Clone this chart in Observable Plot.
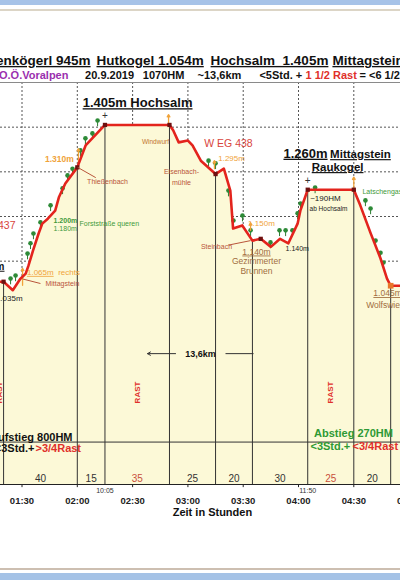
<!DOCTYPE html>
<html>
<head>
<meta charset="utf-8">
<script src="https://cdn.jsdelivr.net/npm/d3@7"></script>
<script src="https://cdn.jsdelivr.net/npm/@observablehq/plot@0.6"></script>
<style>
html, body { margin:0; padding:0; background:#fff; overflow:hidden; width:400px; height:580px; }
#wrap { position:relative; width:400px; height:580px; overflow:hidden; background:#fff; }
#wrap svg { position:absolute; left:0; top:0; }
.chrome { position:absolute; left:0; width:400px; }
</style>
</head>
<body>
<div id="wrap">
  <div class="chrome" style="top:0;height:5px;background:#a7c3e8"></div>
  <div class="chrome" style="top:9px;height:2px;background:#dcd5c6"></div>
  <div class="chrome" style="top:568px;height:2px;background:#cdbfb1"></div>
  <div class="chrome" style="top:573px;height:7px;background:#a4c2e6"></div>
</div>
<script>
// ---------- data (minutes from start, metres) ----------
const profileMinutes   = [50, 80, 85, 89, 92, 93.5, 96, 99, 101, 104, 108, 110, 113.5, 120, 124.5, 135, 170, 172, 175, 180, 182.5, 187, 195, 199.5, 203, 204.5, 209.5, 215, 219.5, 225, 230, 234.5, 239.5, 241, 245, 270, 273.5, 279, 284.5, 288, 290, 300];
const profileElevation = [1054, 1054, 1035, 1060, 1072, 1090, 1124, 1162, 1184, 1195, 1213, 1243, 1274, 1310, 1359, 1405, 1405, 1393, 1366, 1370, 1359, 1325, 1295, 1307, 1258, 1173, 1180, 1146, 1150, 1132, 1150, 1140, 1184, 1213, 1260, 1260, 1225, 1164, 1106, 1061, 1045, 1045];

const stopMinutes    = [80, 120, 135, 170, 195, 215, 245, 270, 290];
const segmentMinutes = [40, 15, 35, 25, 20, 30, 25, 20];
const segmentIsRest  = [false, false, true, false, false, false, true, false];
const clockStops     = [135, 245];
const clockLabels    = ["10:05", "11:50"];

const tickMinutes    = [90, 120, 150, 180, 210, 240, 270, 300];
const gridElevations = [1000, 1100, 1200, 1300, 1400];

const markerMinutes  = [80, 120, 135, 170, 195, 219.5, 245, 270];
const wolfswieseMinute = [290];

const treeMinutes   = [83.8, 86.5, 93, 94.6, 96.2, 100, 105.5, 112, 114.7, 117.4, 121.7, 124.4, 128.2, 131, 191.2, 195, 202, 204.7, 209.6, 214, 224.8, 229.7, 233, 236.7, 239.5, 241.1, 249, 276.3, 279.1, 281.8, 284.5, 286.1];
const treeElevation = [1061, 1068, 1117, 1140, 1162, 1187, 1225, 1263, 1292, 1307, 1348, 1375, 1386, 1415, 1325, 1319, 1258, 1191, 1202, 1169, 1142, 1169, 1169, 1169, 1207, 1229, 1265, 1236, 1218, 1146, 1119, 1097];

const orangeArrowMinutes = [90.3, 120.6, 194.4, 214, 169.5, 270];
const orangeArrowFrom    = [1046, 1314, 1307, 1169, 1408, 1262];
const orangeArrowTo      = [1084, 1352, 1325, 1186, 1428, 1288];

// ---------- text annotations (minutes, metres) ----------
const titleTexts = [
  {t: 127.2, e: 1549, s: "Kienkögerl 945m", a: "end"},
  {t: 130.4, e: 1549, s: "Hutkogel 1.054m", a: "start"},
  {t: 192.3, e: 1549, s: "Hochsalm\u00a0 1.405m", a: "start"},
  {t: 258.4, e: 1549, s: "Mittagstein 1.260m", a: "start"}
];
const subtitleTexts = [
  {t: 137.5, e: 1516, s: "20.9.2019"},
  {t: 166.8, e: 1516, s: "1070HM"},
  {t: 197.1, e: 1516, s: "~13,6km"}
];

// ---------- build ----------
const FONT = "'Liberation Sans', Arial, Helvetica, sans-serif";
const RED = "#e3241d", BEIGE = "#fcf9d7", ORANGE = "#f0a33a", BROWN = "#b9553a", TAN = "#a06d3e", GREEN = "#3f9a3b", DGREEN = "#2d8a37";

const profile = profileMinutes.map((t, i) => ({t, e: profileElevation[i]}));
const elevAt = t => {
  const i = d3.bisectLeft(profileMinutes, t);
  if (profileMinutes[i] === t) return profileElevation[i];
  const t0 = profileMinutes[i - 1], t1 = profileMinutes[i];
  return profileElevation[i - 1] + (profileElevation[i] - profileElevation[i - 1]) * (t - t0) / (t1 - t0);
};
const stops = stopMinutes.map(t => ({t, e: elevAt(t)}));
const segments = segmentMinutes.map((m, i) => ({t: (stopMinutes[i] + stopMinutes[i + 1]) / 2, s: String(m), rest: segmentIsRest[i]}));
const rests = segments.filter(d => d.rest);
const clocks = clockStops.map((t, i) => ({t, s: clockLabels[i]}));
const markers = markerMinutes.map(t => ({t, e: elevAt(t)}));
const wolf = wolfswieseMinute.map(t => ({t, e: elevAt(t)}));
const summits = [135, 245].map(t => ({t, e: elevAt(t)}));
const trees = treeMinutes.map((t, i) => ({t, e: treeElevation[i]}));
const oarrows = orangeArrowMinutes.map((t, i) => ({t, e1: orangeArrowFrom[i], e2: orangeArrowTo[i]}));
const fmt = t => `${String(Math.floor(t / 60)).padStart(2, "0")}:${String(t % 60).padStart(2, "0")}`;

const T = (data, o) => Plot.text(data, {x: "t", y: "e", text: "s", fontFamily: FONT, ...o});
const U = "underline";

const svg = Plot.plot({
  width: 400, height: 580,
  marginTop: 82, marginBottom: 96, marginLeft: 0, marginRight: 0,
  x: {domain: [78.33, 295.33], axis: null},
  y: {domain: [600, 1500], axis: null},
  style: {background: "transparent", fontFamily: FONT},
  marks: [
    Plot.ruleY(gridElevations, {stroke: "#555", strokeDasharray: "2,2", strokeWidth: 1}),
    Plot.ruleX(tickMinutes, {y1: 600, y2: 1500, stroke: "#555", strokeDasharray: "2,2", strokeWidth: 1, clip: true}),
    Plot.areaY(profile, {x: "t", y1: 600, y2: "e", fill: BEIGE, clip: true}),
    Plot.ruleY([1500], {stroke: "#8a8a8a"}),
    Plot.ruleX(stops, {x: "t", y1: 600, y2: "e", stroke: "#333", strokeWidth: 1}),
    Plot.ruleY([695], {stroke: "#333", strokeWidth: 1}),
    Plot.arrow([{a: 173.3, b: 158.1, e: 893}], {x1: "a", x2: "b", y1: "e", y2: "e", stroke: "#333", strokeWidth: 1, headLength: 5}),
    Plot.link([{a: 200.4, b: 215.6, e: 893}], {x1: "a", x2: "b", y1: "e", y2: "e", stroke: "#333", strokeWidth: 1}),
    // trees
    Plot.ruleX(trees, {x: "t", y1: "e", y2: d => d.e - 14, stroke: "#2e7d32", strokeWidth: 1}),
    Plot.dot(trees, {x: "t", y: "e", r: 2.3, fill: DGREEN}),
    Plot.arrow(oarrows, {x1: "t", x2: "t", y1: "e1", y2: "e2", stroke: ORANGE, strokeWidth: 1.3, headLength: 3}),
    // profile
    Plot.line(profile, {x: "t", y: "e", stroke: RED, strokeWidth: 2.6, clip: true}),
    Plot.dot(markers, {x: "t", y: "e", symbol: "square", r: 2.4, fill: "#6e1010"}),
    Plot.dot(wolf, {x: "t", y: "e", symbol: "square", r: 3.2, fill: "#e8762a"}),
    Plot.text(summits, {x: "t", y: "e", text: () => "+", dy: -9, fontSize: 10, fill: "#333", fontFamily: FONT}),
    // axis
    Plot.ruleY([600], {stroke: "#222", strokeWidth: 1}),
    Plot.ruleX(tickMinutes, {y1: 600, y2: 593, stroke: "#222"}),
    Plot.text(tickMinutes, {x: d => d, y: 564, text: fmt, fontWeight: "bold", fontSize: 9.5, fill: "#222", fontFamily: FONT}),
    Plot.text(["Zeit in Stunden"], {x: 193.3, y: 537, text: d => d, fontWeight: "bold", fontSize: 11, fill: "#111", fontFamily: FONT}),
    Plot.text(clocks, {x: "t", y: 587, text: "s", fontSize: 7, fill: "#333", fontFamily: FONT}),
    Plot.text(segments, {x: "t", y: 613, text: "s", fontSize: 10, fill: d => d.rest ? "#c8503c" : "#333", fontFamily: FONT}),
    Plot.text(rests.concat([{t: 77.6}]), {x: "t", y: 806, text: () => "RAST", rotate: -90, fontSize: 8, fontWeight: "bold", fill: "#e0302a", fontFamily: FONT}),
    // titles
    Plot.text(titleTexts.filter(d => d.a === "end"), {x: "t", y: "e", text: "s", textAnchor: "end", fontSize: 13.5, fontWeight: "bold", fill: "#111", fontFamily: FONT, ariaDescription: U}),
    Plot.text(titleTexts.filter(d => d.a === "start"), {x: "t", y: "e", text: "s", textAnchor: "start", fontSize: 13.5, fontWeight: "bold", fill: "#111", fontFamily: FONT, ariaDescription: U}),
    T([{t: 115.2, e: 1516, s: "O.Ö.Voralpen"}], {textAnchor: "end", fontSize: 11, fontWeight: "bold", fill: "#9a2fae"}),
    T(subtitleTexts, {fontSize: 11, fontWeight: "bold", fill: "#111"}),
    T([{t: 218.8, e: 1516, s: "<5Std. +"}, {t: 273.1, e: 1516, s: "= <6 1/2 Std."}], {textAnchor: "start", fontSize: 11, fontWeight: "bold", fill: "#111"}),
    T([{t: 243.8, e: 1516, s: "1 1/2 Rast"}], {textAnchor: "start", fontSize: 11, fontWeight: "bold", fill: "#e0302a"}),
    // big labels
    T([{t: 152.7, e: 1454, s: "1.405m Hochsalm"}, {t: 243.8, e: 1341, s: "1.260m"}], {fontSize: 13, fontWeight: "bold", fill: "#111", ariaDescription: U}),
    T([{t: 273.6, e: 1339, s: "Mittagstein"}, {t: 261.2, e: 1310, s: "Raukogel"}], {fontSize: 11.5, fontWeight: "bold", fill: "#111", ariaDescription: U}),
    T([{t: 202, e: 1363, s: "W EG 438"}], {fontSize: 10.5, fill: "#d8443c"}),
    T([{t: 86.5, e: 1180, s: "WEG 437"}], {textAnchor: "end", fontSize: 10.5, fill: "#d8443c"}),
    T([{t: 80.5, e: 1088, s: "1.054m"}], {textAnchor: "end", fontSize: 10, fontWeight: "bold", fill: "#111", ariaDescription: U}),
    // orange
    T([{t: 110.3, e: 1328, s: "1.310m"}], {fontSize: 8.5, fontWeight: "bold", fill: ORANGE}),
    T([{t: 203.7, e: 1330, s: "1.295m"}, {t: 219.9, e: 1184, s: "1.150m"}], {fontSize: 8, fill: ORANGE}),
    T([{t: 92.7, e: 1075, s: "1.065m"}], {textAnchor: "start", fontSize: 8, fill: ORANGE, ariaDescription: U}),
    T([{t: 109.6, e: 1075, s: "rechts"}], {textAnchor: "start", fontSize: 8, fill: ORANGE}),
    // brown
    T([{t: 136.4, e: 1278, s: "Thießenbach"}, {t: 176.5, e: 1301, s: "Eisenbach-"}, {t: 176.5, e: 1276, s: "mühle"}, {t: 195.5, e: 1133, s: "Steinbach"}], {fontSize: 7, fill: BROWN}),
    T([{t: 162.4, e: 1366, s: "Windwurf"}], {fontSize: 6.5, fill: "#c0742e"}),
    T([{t: 102.7, e: 1050, s: "Mittagstein"}], {textAnchor: "start", fontSize: 7, fill: BROWN}),
    Plot.link([{a: 120.2, b: 130, e1: 1310, e2: 1287}, {a: 90.5, b: 100, e1: 1060, e2: 1050}, {a: 202, b: 214, e1: 1136, e2: 1146}], {x1: "a", x2: "b", y1: "e1", y2: "e2", stroke: "#b9553a", strokeWidth: 1}),
    T([{t: 217.2, e: 1121, s: "1.140m"}, {t: 288.3, e: 1028, s: "1.045m"}], {fontSize: 8.5, fill: TAN, ariaDescription: U}),
    T([{t: 217.2, e: 1099, s: "Gezimmerter"}, {t: 217.2, e: 1078, s: "Brunnen"}, {t: 288.3, e: 1001, s: "Wolfswiese"}], {fontSize: 8.5, fill: TAN}),
    // green
    T([{t: 107.1, e: 1191, s: "1.200m"}], {textAnchor: "start", fontSize: 7, fontWeight: "bold", fill: GREEN}),
    T([{t: 107.1, e: 1173, s: "1.180m"}, {t: 121.2, e: 1184, s: "Forststraße queren"}, {t: 274.7, e: 1256, s: "Latschengasse"}], {textAnchor: "start", fontSize: 7, fill: GREEN}),
    // black small
    T([{t: 254.6, e: 1240, s: "~190HM"}], {fontSize: 8, fill: "#222"}),
    T([{t: 256.3, e: 1218, s: "ab Hochsalm"}], {fontSize: 6.5, fill: "#222"}),
    T([{t: 233, e: 1128, s: "1.140m"}], {textAnchor: "start", fontSize: 7, fill: "#222"}),
    T([{t: 90.3, e: 1016, s: "1.035m"}], {textAnchor: "end", fontSize: 8, fill: "#222"}),
    // bottom annotations
    T([{t: 186.8, e: 893, s: "13,6km"}], {fontSize: 9, fontWeight: "bold", fill: "#111"}),
    T([{t: 117.4, e: 706, s: "Aufstieg 800HM"}], {textAnchor: "end", fontSize: 11, fontWeight: "bold", fill: "#111"}),
    T([{t: 96.8, e: 681, s: "<3Std.+"}], {textAnchor: "end", fontSize: 11, fontWeight: "bold", fill: "#111"}),
    T([{t: 97.3, e: 681, s: ">3/4Rast"}], {textAnchor: "start", fontSize: 11, fontWeight: "bold", fill: "#e0302a"}),
    T([{t: 269.8, e: 714, s: "Abstieg 270HM"}], {fontSize: 11, fontWeight: "bold", fill: "#2e9a34"}),
    T([{t: 246.5, e: 685, s: "<3Std.+"}], {textAnchor: "start", fontSize: 11, fontWeight: "bold", fill: "#2e9a34"}),
    T([{t: 269.3, e: 685, s: "<3/4Rast"}], {textAnchor: "start", fontSize: 11, fontWeight: "bold", fill: "#e0302a"})
  ]
});
svg.querySelectorAll('[aria-description="underline"] text').forEach(t => t.style.textDecoration = "underline");
document.getElementById("wrap").prepend(svg);
</script>
</body>
</html>
